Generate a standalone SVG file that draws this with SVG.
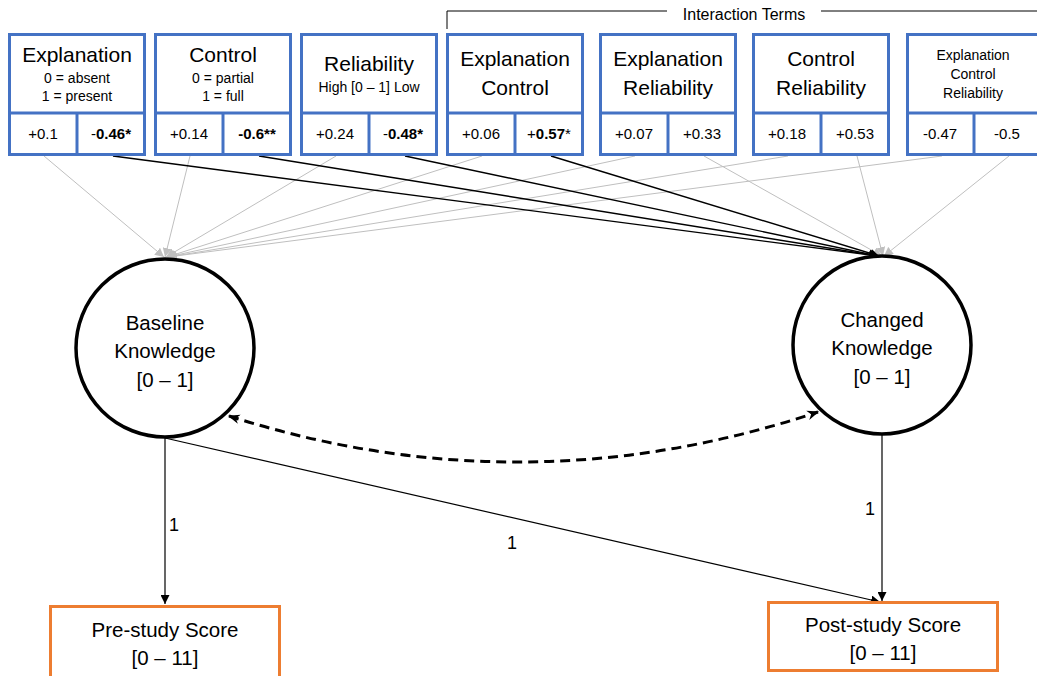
<svg xmlns="http://www.w3.org/2000/svg" width="1037" height="676" viewBox="0 0 1037 676">
<defs>
<style>
text{font-family:"Liberation Sans",Arial,sans-serif;fill:#000;text-anchor:middle}
.box{fill:#fff;stroke:#4472C4;stroke-width:3}
.div{stroke:#4472C4;stroke-width:3}
.t{font-size:21px}
.s{font-size:14px}
.v{font-size:15px}
.c{font-size:20.5px}
.g{stroke:#BFBFBF;stroke-width:1;fill:none}
.k{stroke:#000;stroke-width:1.4;fill:none}
.circ{fill:#fff;stroke:#000;stroke-width:3.5}
.ob{fill:#fff;stroke:#ED7D31;stroke-width:3}
b{font-weight:bold}
.b{font-weight:bold}
</style>
<marker id="ag" viewBox="0 0 10 10" refX="10" refY="5" markerWidth="9" markerHeight="9" markerUnits="userSpaceOnUse" orient="auto"><path d="M0,0 L10,5 L0,10 z" fill="#BFBFBF"/></marker>
<marker id="ak" viewBox="0 0 10 10" refX="10" refY="5" markerWidth="9" markerHeight="9" markerUnits="userSpaceOnUse" orient="auto"><path d="M0,0 L10,5 L0,10 z" fill="#000"/></marker>
<marker id="ad" viewBox="0 0 10 10" refX="9" refY="5" markerWidth="12" markerHeight="12" markerUnits="userSpaceOnUse" orient="auto-start-reverse"><path d="M0,1 L10,5 L0,9 L3,5 z" fill="#000"/></marker>
</defs>

<g id="connectors">
<!-- to Baseline -->
<line class="g" x1="44" y1="156" x2="164" y2="257" marker-end="url(#ag)"/>
<line class="g" x1="190" y1="156" x2="165" y2="257" marker-end="url(#ag)"/>
<line class="g" x1="336" y1="156" x2="166" y2="257" marker-end="url(#ag)"/>
<line class="g" x1="482" y1="156" x2="167" y2="257" marker-end="url(#ag)"/>
<line class="g" x1="635" y1="156" x2="167" y2="257" marker-end="url(#ag)"/>
<line class="g" x1="788" y1="156" x2="168" y2="257" marker-end="url(#ag)"/>
<line class="g" x1="942" y1="156" x2="168" y2="257" marker-end="url(#ag)"/>
<!-- to Changed -->
<line class="g" x1="704" y1="156" x2="882" y2="256" marker-end="url(#ag)"/>
<line class="g" x1="857" y1="156" x2="883" y2="256" marker-end="url(#ag)"/>
<line class="g" x1="1009" y1="156" x2="884" y2="256" marker-end="url(#ag)"/>
<line class="k" x1="113" y1="156" x2="878" y2="256" marker-end="url(#ak)"/>
<line class="k" x1="259" y1="156" x2="878" y2="256" marker-end="url(#ak)"/>
<line class="k" x1="405" y1="156" x2="878" y2="256" marker-end="url(#ak)"/>
<line class="k" x1="551" y1="156" x2="879" y2="256" marker-end="url(#ak)"/>
<!-- dashed covariance -->
<path d="M229,416 Q523,510 818,412" fill="none" stroke="#000" stroke-width="3" stroke-dasharray="10,6" marker-start="url(#ad)" marker-end="url(#ad)"/>
<!-- loadings -->
<line x1="165" y1="438" x2="165" y2="604" stroke="#000" stroke-width="1.2" marker-end="url(#ak)"/>
<line x1="165" y1="438" x2="880" y2="602" stroke="#000" stroke-width="1.2" marker-end="url(#ak)"/>
<line x1="882" y1="435" x2="882" y2="601" stroke="#000" stroke-width="1.2" marker-end="url(#ak)"/>
<text x="174" y="531" style="font-size:18px">1</text>
<text x="512" y="549" style="font-size:18px">1</text>
<text x="870" y="515" style="font-size:18px">1</text>
</g>

<g id="interaction-bracket">
<path d="M447,29 L447,11 L667,11" fill="none" stroke="#000" stroke-width="1"/>
<line x1="821" y1="11" x2="1037" y2="11" stroke="#000" stroke-width="1"/>
<text x="744" y="20" style="font-size:16px">Interaction Terms</text>
</g>

<g id="explanation">
<rect class="box" x="9.5" y="34.5" width="135" height="120"/>
<line class="div" x1="9.5" y1="113" x2="144.5" y2="113"/>
<line class="div" x1="77" y1="113" x2="77" y2="154.5"/>
<text class="t" x="77" y="62">Explanation</text>
<text class="s" x="77" y="83">0 = absent</text>
<text class="s" x="77" y="101">1 = present</text>
<text class="v" x="43" y="139">+0.1</text>
<text class="v" x="111" y="139">-<tspan class="b">0.46*</tspan></text>
</g>

<g id="control">
<rect class="box" x="155.5" y="34.5" width="135" height="120"/>
<line class="div" x1="155.5" y1="113" x2="290.5" y2="113"/>
<line class="div" x1="223" y1="113" x2="223" y2="154.5"/>
<text class="t" x="223" y="62">Control</text>
<text class="s" x="223" y="83">0 = partial</text>
<text class="s" x="223" y="101">1 = full</text>
<text class="v" x="189" y="139">+0.14</text>
<text class="v b" x="257" y="139">-0.6**</text>
</g>

<g id="reliability">
<rect class="box" x="301.5" y="34.5" width="135" height="120"/>
<line class="div" x1="301.5" y1="113" x2="436.5" y2="113"/>
<line class="div" x1="369" y1="113" x2="369" y2="154.5"/>
<text class="t" x="369" y="71">Reliability</text>
<text class="s" x="369" y="92">High [0 – 1] Low</text>
<text class="v" x="335" y="139">+0.24</text>
<text class="v" x="403" y="139">-<tspan class="b">0.48*</tspan></text>
</g>

<g id="explanation-control">
<rect class="box" x="447.5" y="34.5" width="135" height="120"/>
<line class="div" x1="447.5" y1="113" x2="582.5" y2="113"/>
<line class="div" x1="515" y1="113" x2="515" y2="154.5"/>
<text class="t" x="515" y="66">Explanation</text>
<text class="t" x="515" y="95">Control</text>
<text class="v" x="481" y="139">+0.06</text>
<text class="v" x="549" y="139">+<tspan class="b">0.57</tspan>*</text>
</g>

<g id="explanation-reliability">
<rect class="box" x="600.5" y="34.5" width="135" height="120"/>
<line class="div" x1="600.5" y1="113" x2="735.5" y2="113"/>
<line class="div" x1="668" y1="113" x2="668" y2="154.5"/>
<text class="t" x="668" y="66">Explanation</text>
<text class="t" x="668" y="95">Reliability</text>
<text class="v" x="634" y="139">+0.07</text>
<text class="v" x="702" y="139">+0.33</text>
</g>

<g id="control-reliability">
<rect class="box" x="753.5" y="34.5" width="135" height="120"/>
<line class="div" x1="753.5" y1="113" x2="888.5" y2="113"/>
<line class="div" x1="821" y1="113" x2="821" y2="154.5"/>
<text class="t" x="821" y="66">Control</text>
<text class="t" x="821" y="95">Reliability</text>
<text class="v" x="787" y="139">+0.18</text>
<text class="v" x="855" y="139">+0.53</text>
</g>

<g id="explanation-control-reliability">
<rect class="box" x="907.5" y="34.5" width="135" height="120"/>
<line class="div" x1="907.5" y1="113" x2="1042.5" y2="113"/>
<line class="div" x1="974" y1="113" x2="974" y2="154.5"/>
<text class="s" x="973" y="60">Explanation</text>
<text class="s" x="973" y="79">Control</text>
<text class="s" x="973" y="98">Reliability</text>
<text class="v" x="940" y="139">-0.47</text>
<text class="v" x="1007" y="139">-0.5</text>
</g>

<g id="baseline-knowledge">
<circle class="circ" cx="165" cy="348" r="89"/>
<text class="c" x="165" y="330">Baseline</text>
<text class="c" x="165" y="358">Knowledge</text>
<text class="c" x="165" y="387">[0 – 1]</text>
</g>

<g id="changed-knowledge">
<circle class="circ" cx="882" cy="345" r="89"/>
<text class="c" x="882" y="327">Changed</text>
<text class="c" x="882" y="355">Knowledge</text>
<text class="c" x="882" y="384">[0 – 1]</text>
</g>

<g id="pre-study-score">
<rect class="ob" x="50.5" y="606.5" width="229" height="75"/>
<text class="c" x="165" y="637">Pre-study Score</text>
<text class="c" x="165" y="665">[0 – 11]</text>
</g>

<g id="post-study-score">
<rect class="ob" x="768.5" y="602.5" width="229" height="68"/>
<text class="c" x="883" y="632">Post-study Score</text>
<text class="c" x="883" y="660">[0 – 11]</text>
</g>
</svg>
